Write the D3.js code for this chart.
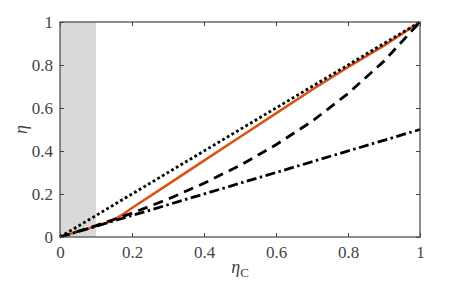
<!DOCTYPE html>
<html>
<head>
<meta charset="UTF-8">
<script src="https://d3js.org/d3.v7.min.js"></script>
<style>
  body { margin: 0; background: #fff; }
  svg text { font-family: "Liberation Serif", serif; }
</style>
</head>
<body>
<div id="chart"></div>
<script>
// values
const xTicks = [0, 0.2, 0.4, 0.6, 0.8, 1];
const yTicks = [0, 0.2, 0.4, 0.6, 0.8, 1];
const shadeRange = [0, 0.1];

const carnotX = [0, 1];
const carnotY = [0, 1];

const orangeX = [0, 0.05, 0.1, 0.14, 0.17, 0.2, 0.3, 0.4, 0.5, 0.6, 0.7, 0.8, 0.9, 1];
const orangeY = [0, 0.025, 0.05, 0.072, 0.1, 0.135, 0.245, 0.355, 0.465, 0.575, 0.685, 0.79, 0.89, 1];

const dashedX = [0, 0.1, 0.2, 0.3, 0.4, 0.5, 0.6, 0.7, 0.8, 0.9, 1];
const dashedY = [0, 0.053, 0.111, 0.176, 0.25, 0.333, 0.429, 0.538, 0.667, 0.818, 1];

const halfX = [0, 1];
const halfY = [0, 0.5];

const serif = "Liberation Serif";
const margin = { top: 22, right: 43, bottom: 50, left: 60 };
const W = 463, H = 287;
const width = W - margin.left - margin.right;
const height = H - margin.top - margin.bottom;

const svg = d3.select("#chart").append("svg")
  .attr("width", W).attr("height", H);
const g = svg.append("g")
  .attr("transform", "translate(" + margin.left + "," + margin.top + ")");

const x = d3.scaleLinear().domain([0, 1]).range([0, width]);
const y = d3.scaleLinear().domain([0, 1]).range([height, 0]);

// shaded region
g.append("rect")
  .attr("x", x(shadeRange[0]))
  .attr("y", 0)
  .attr("width", x(shadeRange[1]) - x(shadeRange[0]))
  .attr("height", height)
  .attr("fill", "#d9d9d9");

const line = d3.line().x(d => x(d[0])).y(d => y(d[1]));
const zip = (a, b) => a.map((v, i) => [v, b[i]]);

g.append("path").datum(zip(orangeX, orangeY))
  .attr("d", line).attr("fill", "none")
  .attr("stroke", "#d95319").attr("stroke-width", 2.6);

g.append("path").datum(zip(halfX, halfY))
  .attr("d", line).attr("fill", "none")
  .attr("stroke", "#000").attr("stroke-width", 2.8)
  .attr("stroke-dasharray", "10,3.5,2.5,3.5");

g.append("path").datum(zip(dashedX, dashedY))
  .attr("d", line).attr("fill", "none")
  .attr("stroke", "#000").attr("stroke-width", 2.8)
  .attr("stroke-dasharray", "10,6.5");

g.append("path").datum(zip(carnotX, carnotY))
  .attr("d", line).attr("fill", "none")
  .attr("stroke", "#000").attr("stroke-width", 2.8)
  .attr("stroke-dasharray", "2.8,2.6");

// axes with inward ticks on all sides
const fmt = d => d === 0 || d === 1 ? String(d) : d.toFixed(1);
const axisStyle = sel => {
  sel.attr("font-family", serif);
  sel.select(".domain").remove();
  sel.selectAll("line").attr("stroke", "#444");
  sel.selectAll("text").attr("font-size", 17).attr("fill", "#444");
};

g.append("g").attr("transform", "translate(0," + height + ")")
  .call(d3.axisBottom(x).tickValues(xTicks).tickFormat(fmt).tickSizeInner(-4).tickSizeOuter(0).tickPadding(9))
  .call(axisStyle);
g.append("g")
  .call(d3.axisTop(x).tickValues(xTicks).tickFormat("").tickSizeInner(-4).tickSizeOuter(0))
  .call(axisStyle);
g.append("g")
  .call(d3.axisLeft(y).tickValues(yTicks).tickFormat(fmt).tickSizeInner(-4).tickSizeOuter(0).tickPadding(7))
  .call(axisStyle);
g.append("g").attr("transform", "translate(" + width + ",0)")
  .call(d3.axisRight(y).tickValues(yTicks).tickFormat("").tickSizeInner(-4).tickSizeOuter(0))
  .call(axisStyle);

// frame
g.append("rect").attr("width", width).attr("height", height)
  .attr("fill", "none").attr("stroke", "#444").attr("stroke-width", 1.2);

// axis labels
const xl = svg.append("text")
  .attr("x", margin.left + width / 2)
  .attr("y", H - 14)
  .attr("text-anchor", "middle")
  .attr("fill", "#444")
  .attr("font-size", 18);
xl.append("tspan").attr("font-style", "italic").text("η");
xl.append("tspan").attr("dy", 4).attr("font-size", 13).text("C");

svg.append("text")
  .attr("transform", "translate(27," + (margin.top + height / 2) + ") rotate(-90)")
  .attr("text-anchor", "middle")
  .attr("fill", "#444")
  .attr("font-size", 18)
  .attr("font-style", "italic")
  .text("η");
</script>
</body>
</html>
